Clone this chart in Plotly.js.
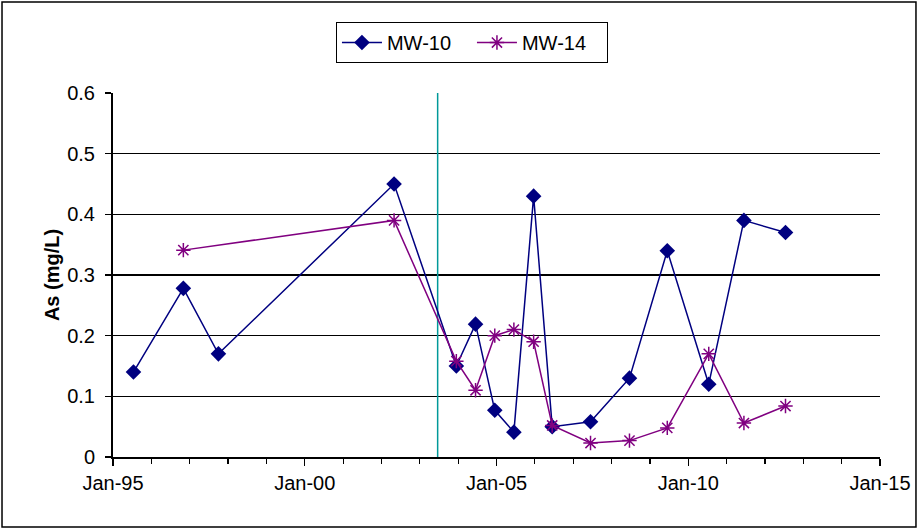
<!DOCTYPE html>
<html>
<head>
<meta charset="utf-8">
<script src="https://cdn.plot.ly/plotly-3.0.1.min.js"></script>
<style>
html,body{margin:0;padding:0;background:#fff;}
#chart{width:919px;height:529px;}
</style>
</head>
<body>
<div id="chart"></div>
<script>
// MW-10 sampling dates and arsenic values (mg/L)
const mw10Dates = ['1995-07-15','1996-11-01','1997-10-01','2002-05-01','2003-12-15','2004-06-15','2004-12-15','2005-06-15','2005-12-20','2006-06-15','2007-06-15','2008-06-20','2009-06-15','2010-07-15','2011-06-15','2012-07-15'];
const mw10Values = [0.14, 0.278, 0.17, 0.45, 0.15, 0.219, 0.077, 0.041, 0.43, 0.05, 0.058, 0.13, 0.34, 0.12, 0.39, 0.37];

// MW-14 sampling dates and arsenic values (mg/L)
const mw14Dates = ['1996-11-01','2002-05-01','2003-12-15','2004-06-15','2004-12-15','2005-06-15','2005-12-20','2006-06-15','2007-06-15','2008-06-20','2009-06-15','2010-07-15','2011-06-15','2012-07-15'];
const mw14Values = [0.341, 0.39, 0.158, 0.11, 0.2, 0.21, 0.19, 0.052, 0.023, 0.027, 0.048, 0.17, 0.056, 0.084];

// Vertical reference line date
const refDates = ['2003-06-20','2003-06-20'];
const refValues = [0, 0.6];

const traces = [
  {
    x: refDates, y: refValues, mode: 'lines', type: 'scatter',
    line: {color: '#009999', width: 1.5}, showlegend: false, hoverinfo: 'skip'
  },
  {
    x: mw10Dates, y: mw10Values, name: 'MW-10', mode: 'lines+markers', type: 'scatter',
    line: {color: '#000080', width: 1.5},
    marker: {symbol: 'diamond', size: 12, color: '#000080'}
  },
  {
    x: mw14Dates, y: mw14Values, name: 'MW-14', mode: 'lines+markers', type: 'scatter',
    line: {color: '#800080', width: 1.5},
    marker: {symbol: 'asterisk-open', size: 12, color: '#800080', line: {color: '#800080', width: 1.5}}
  }
];

const layout = {
  width: 919, height: 529,
  margin: {l: 113, r: 39, t: 93, b: 72},
  paper_bgcolor: '#fff', plot_bgcolor: '#fff',
  font: {family: '"Liberation Sans", Arial, sans-serif', size: 20, color: '#000'},
  showlegend: true,
  legend: {
    orientation: 'h', x: 0.468, xanchor: 'center', y: 1.195, yanchor: 'top',
    bordercolor: '#000', borderwidth: 1, bgcolor: '#fff',
    font: {size: 20}, itemwidth: 40, entrywidth: 80
  },
  xaxis: {
    type: 'date',
    range: ['1995-01-01', '2015-01-01'],
    tick0: '1995-01-01', dtick: 'M60', tickformat: '%b-%y',
    ticks: 'outside', ticklen: 7, tickcolor: '#000', tickwidth: 1.5,
    minor: {dtick: 'M12', ticks: 'outside', ticklen: 5, tickcolor: '#000', tickwidth: 1.2, showgrid: false},
    showline: true, linecolor: '#000', linewidth: 2,
    showgrid: false, zeroline: false,
    tickfont: {size: 20}
  },
  yaxis: {
    range: [0, 0.6], dtick: 0.1, tickformat: '.1~f',
    ticks: 'outside', ticklen: 6, tickcolor: '#000', tickwidth: 1.5,
    ticklabelstandoff: 6,
    showline: true, linecolor: '#000', linewidth: 2,
    showgrid: true, gridcolor: '#000', gridwidth: 1.5,
    zeroline: false,
    tickfont: {size: 20},
    title: {text: '<b>As (mg/L)</b>', font: {size: 20}, standoff: 2}
  },
  shapes: [
    {type: 'rect', xref: 'paper', yref: 'paper',
     x0: -0.1447, x1: 1.0469, y0: -0.1923, y1: 1.25,
     line: {color: '#000', width: 1.5}, fillcolor: 'rgba(0,0,0,0)'}
  ]
};

Plotly.newPlot('chart', traces, layout, {displayModeBar: false, staticPlot: true});
</script>
</body>
</html>
